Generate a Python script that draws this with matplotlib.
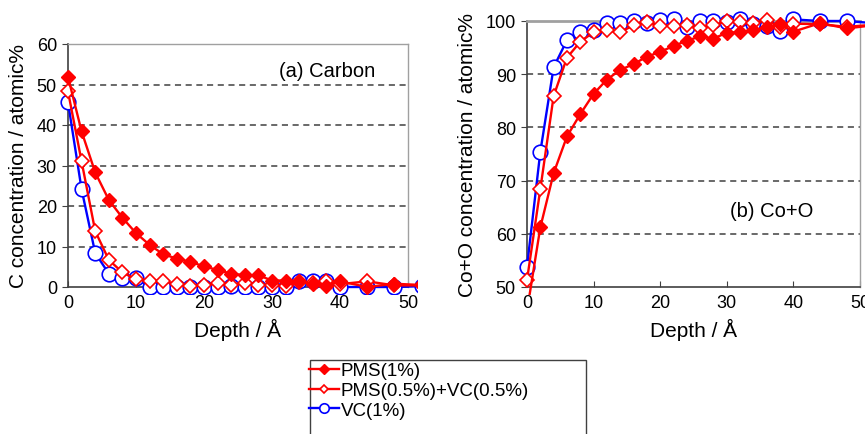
import matplotlib
matplotlib.use("Agg")
import matplotlib.pyplot as plt
from matplotlib.patches import Rectangle
from matplotlib.lines import Line2D

plt.rcParams['font.family'] = ['Liberation Sans', 'DejaVu Sans']

# ---- data ----
depth = [0, 2, 4, 6, 8, 10, 12, 14, 16, 18, 20, 22, 24, 26, 28, 30, 32, 34, 36, 38, 40, 44, 48, 52]

c_pms = [51.9, 38.4, 28.3, 21.5, 17.1, 13.3, 10.4, 8.1, 7.0, 6.2, 5.1, 4.2, 3.3, 2.9, 2.9, 1.6,
         1.6, 1.4, 0.7, 0.3, 1.4, 0.0, 0.8, 0.5]
c_mix = [48.3, 31.0, 13.8, 6.7, 3.6, 1.9, 1.6, 1.4, 0.8, 0.2, 0.6, 0.9, 0.4, 1.1, 0.6, 0.4,
         0.2, 1.2, 0.9, 1.5, 0.7, 1.4, 0.4, 0.4]
c_vc = [45.6, 24.1, 8.4, 3.3, 2.1, 2.2, 0.0, 0.0, 0.0, 0.0, 0.0, 0.0, 0.2, 0.0, 0.0, 0.0,
        0.0, 1.4, 1.6, 1.6, 0.0, 0.0, 0.0, 0.2]

coo_pms = [45.5, 61.2, 71.4, 78.3, 82.5, 86.3, 89.0, 90.8, 91.9, 93.3, 94.2, 95.3, 96.3, 97.1,
           96.7, 97.8, 97.9, 98.3, 98.8, 99.4, 98.0, 99.6, 98.6, 99.2]
coo_mix = [51.3, 68.4, 85.9, 93.1, 96.1, 97.9, 98.3, 97.9, 99.2, 99.8, 99.1, 99.1, 99.2, 98.6,
           99.2, 100.0, 99.8, 99.6, 100.2, 98.8, 99.5, 99.4, 98.9, 99.3]
coo_vc = [53.8, 75.4, 91.3, 96.4, 97.9, 98.4, 99.6, 99.7, 100.0, 99.7, 100.2, 100.4, 98.9, 100.0,
          100.0, 99.8, 100.3, 99.5, 99.0, 98.2, 100.3, 100.0, 100.0, 99.6]

labels = ["PMS(1%)", "PMS(0.5%)+VC(0.5%)", "VC(1%)"]
x_ticks = [0, 10, 20, 30, 40, 50]
c_ticks = [0, 10, 20, 30, 40, 50, 60]
coo_ticks = [50, 60, 70, 80, 90, 100]
c_grid = [10, 20, 30, 40, 50]
coo_grid = [60, 70, 80, 90]

RED = '#FF0000'
BLUE = '#0000FF'

fig = plt.figure(figsize=(8.65, 4.35), dpi=100)
axL = fig.add_axes([68/865, 147/435, 340/865, 243/435])
axR = fig.add_axes([527/865, 147/435, 333/865, 266/435])

styles = [
    dict(color=RED, marker='D', markersize=7.6, markerfacecolor=RED, markeredgecolor=RED, lw=1.7),
    dict(color=RED, marker='D', markersize=6.8, markerfacecolor='white', markeredgecolor=RED,
         markeredgewidth=1.2, lw=1.7),
    dict(color=BLUE, marker='o', markersize=10.5, markerfacecolor='white', markeredgecolor=BLUE,
         markeredgewidth=1.2, lw=1.7),
]


def setup(ax, yvals, ylim, yticks, grid, ylabel, note, note_xy, ycoef):
    for v, st in zip(yvals[::-1], styles[::-1]):
        ln, = ax.plot(depth, v, zorder=3, **st)
        clip = Rectangle((-0.05, -0.03), 1.076, 1.09, transform=ax.transAxes,
                         facecolor='none', edgecolor='none')
        ln.set_clip_path(clip)
    for g in grid:
        ax.axhline(g, color='#404040', lw=1.1, ls=(0, (4, 3)), zorder=1)
    ax.set_xlim(0, 50)
    ax.set_ylim(*ylim)
    ax.set_xticks(x_ticks)
    ax.set_yticks(yticks)
    ax.tick_params(axis='x', direction='in', length=4, labelsize=13, pad=5, color='#404040')
    ax.tick_params(axis='y', direction='out', length=4, labelsize=13, pad=4, color='#404040')
    ax.set_xlabel("Depth / Å", fontsize=15, labelpad=5)
    ax.set_ylabel(ylabel, fontsize=15, labelpad=ycoef)
    for s in ['left', 'bottom']:
        ax.spines[s].set_color('#404040')
        ax.spines[s].set_linewidth(1.2)
    for s in ['top', 'right']:
        ax.spines[s].set_color('#a0a0a0')
        ax.spines[s].set_linewidth(1.0)
    ax.text(note_xy[0], note_xy[1], note, transform=ax.transAxes, fontsize=14.5,
            ha='center', va='center')


setup(axL, [c_pms, c_mix, c_vc], (0, 60), c_ticks, c_grid,
      "C concentration / atomic%", "(a) Carbon", (0.762, 0.889), 6)
setup(axR, [coo_pms, coo_mix, coo_vc], (50, 100), coo_ticks, coo_grid,
      "Co+O concentration / atomic%", "(b) Co+O", (0.735, 0.286), 6)
axR.spines['top'].set_linewidth(2.0)

# legend box
fig.patches.append(Rectangle((310/865, -0.05), 276/865, (435-361)/435 + 0.05,
                             transform=fig.transFigure, facecolor='white',
                             edgecolor='#404040', lw=1.0, zorder=0))
handles = [Line2D([], [], **dict(st, markersize=st['markersize']*0.65)) for st in styles]
fig.legend(handles, labels, loc='upper left', bbox_to_anchor=(309/865, 1 - 363/435),
           frameon=False, fontsize=13.5, handlelength=1.6, handletextpad=0.1,
           labelspacing=0.15, borderpad=0.0, borderaxespad=0.0)

fig.savefig("out.png", dpi=100)
